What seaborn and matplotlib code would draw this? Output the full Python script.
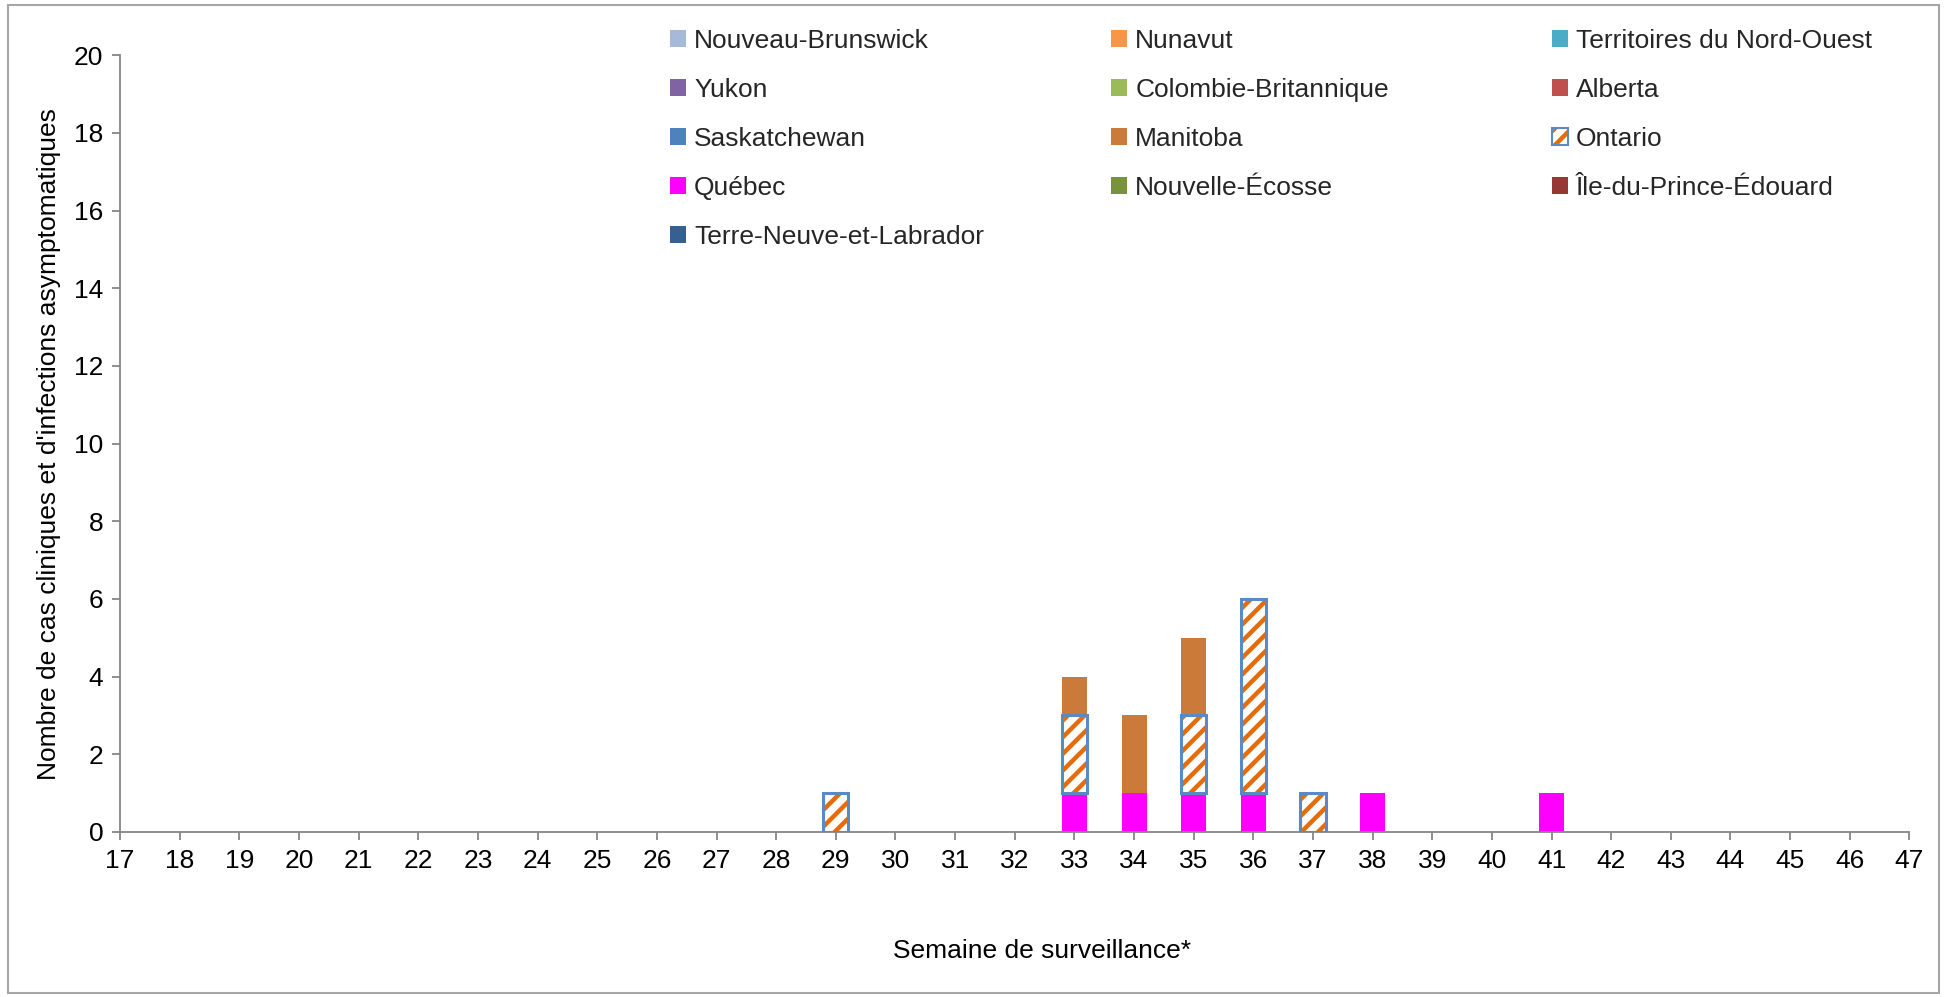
import matplotlib
matplotlib.use("Agg")
import matplotlib.pyplot as plt
from matplotlib.patches import Patch, Rectangle
from matplotlib.legend_handler import HandlerTuple
import seaborn as sns
import numpy as np

weeks = [17, 18, 19, 20, 21, 22, 23, 24, 25, 26,
         27, 28, 29, 30, 31, 32, 33, 34, 35, 36,
         37, 38, 39, 40, 41, 42, 43, 44, 45, 46, 47]

provinces = ["Nouveau-Brunswick", "Nunavut", "Territoires du Nord-Ouest",
             "Yukon", "Colombie-Britannique", "Alberta",
             "Saskatchewan", "Manitoba", "Ontario",
             "Québec", "Nouvelle-Écosse", "Île-du-Prince-Édouard",
             "Terre-Neuve-et-Labrador"]

colors = {
    "Nouveau-Brunswick": "#A7B9D9",
    "Nunavut": "#F79646",
    "Territoires du Nord-Ouest": "#4BACC6",
    "Yukon": "#8064A2",
    "Colombie-Britannique": "#9BBB59",
    "Alberta": "#C0504D",
    "Saskatchewan": "#4F81BD",
    "Manitoba": "#CB7A39",
    "Ontario": "#E46C0A",
    "Québec": "#FF00FF",
    "Nouvelle-Écosse": "#77933C",
    "Île-du-Prince-Édouard": "#953735",
    "Terre-Neuve-et-Labrador": "#376092",
}

quebec = [0, 0, 0, 0, 0, 0, 0, 0, 0, 0,
          0, 0, 0, 0, 0, 0, 1, 1, 1, 1,
          0, 1, 0, 0, 1, 0, 0, 0, 0, 0, 0]
ontario = [0, 0, 0, 0, 0, 0, 0, 0, 0, 0,
           0, 0, 1, 0, 0, 0, 2, 0, 2, 5,
           1, 0, 0, 0, 0, 0, 0, 0, 0, 0, 0]
manitoba = [0, 0, 0, 0, 0, 0, 0, 0, 0, 0,
            0, 0, 0, 0, 0, 0, 1, 2, 2, 0,
            0, 0, 0, 0, 0, 0, 0, 0, 0, 0, 0]
zeros = [0, 0, 0, 0, 0, 0, 0, 0, 0, 0,
         0, 0, 0, 0, 0, 0, 0, 0, 0, 0,
         0, 0, 0, 0, 0, 0, 0, 0, 0, 0, 0]

values = {p: zeros for p in provinces}
values["Québec"] = quebec
values["Ontario"] = ontario
values["Manitoba"] = manitoba

stack_order = ["Terre-Neuve-et-Labrador", "Île-du-Prince-Édouard", "Nouvelle-Écosse",
               "Québec", "Ontario", "Manitoba", "Saskatchewan", "Alberta",
               "Colombie-Britannique", "Yukon", "Territoires du Nord-Ouest",
               "Nunavut", "Nouveau-Brunswick"]

sns.set_theme(style="white")
plt.rcParams["font.family"] = ["Liberation Sans", "DejaVu Sans"]
plt.rcParams["hatch.linewidth"] = 3.2

FS = 19

fig = plt.figure(figsize=(19.47, 9.97), dpi=100)
ax = fig.add_axes([0.0617, 0.1655, 0.919, 0.779])

x = np.array(weeks, dtype=float)
bottom = np.zeros(len(weeks))
width = 0.42
handles = {}
for p in stack_order:
    v = np.array(values[p], dtype=float)
    m = v > 0
    if p == "Ontario":
        if m.any():
            ax.bar(x[m], v[m], width, bottom=bottom[m], facecolor="white",
                   edgecolor=colors[p], hatch="//", linewidth=0, zorder=2)
            ax.bar(x[m], v[m], width, bottom=bottom[m], facecolor="none",
                   edgecolor="#5A8AC6", linewidth=2.2, zorder=3)
        h1 = Patch(facecolor="white", edgecolor=colors[p], hatch="//", linewidth=0)
        h2 = Patch(facecolor="none", edgecolor="#5A8AC6", linewidth=1.5)
        handles[p] = (h1, h2)
    else:
        if m.any():
            ax.bar(x[m], v[m], width, bottom=bottom[m], color=colors[p],
                   linewidth=0, zorder=2)
        handles[p] = Patch(facecolor=colors[p], linewidth=0)
    bottom = bottom + v

ax.set_xlim(17, 47)
ax.set_ylim(0, 20)
ax.set_xticks(weeks)
ax.set_xticklabels([str(w) for w in weeks])
ax.set_yticks(range(0, 21, 2))

for s in ["top", "right"]:
    ax.spines[s].set_visible(False)
for s in ["left", "bottom"]:
    ax.spines[s].set_color("#868686")
    ax.spines[s].set_linewidth(1.3)
ax.tick_params(axis="both", which="major", direction="out", length=6,
               width=1.3, color="#868686", labelsize=FS, labelcolor="black",
               pad=6, left=True, bottom=True)
ax.grid(False)

ax.set_xlabel("Semaine de surveillance*", fontsize=FS, color="black", labelpad=0)
ax.xaxis.set_label_coords(0.515, -0.138)
ax.set_ylabel("Nombre de cas cliniques et d'infections asymptomatiques",
              fontsize=FS, color="black")
ax.yaxis.set_label_coords(-0.033, 0.5)

columns = [
    ["Nouveau-Brunswick", "Yukon", "Saskatchewan", "Québec", "Terre-Neuve-et-Labrador"],
    ["Nunavut", "Colombie-Britannique", "Manitoba", "Nouvelle-Écosse"],
    ["Territoires du Nord-Ouest", "Alberta", "Ontario", "Île-du-Prince-Édouard"],
]
col_x = [0.344, 0.5706, 0.797]
for cx, col in zip(col_x, columns):
    fig.legend([handles[p] for p in col], col,
               handler_map={tuple: HandlerTuple(ndivide=1)},
               loc="upper left", bbox_to_anchor=(cx, 0.971), ncol=1,
               frameon=False, fontsize=FS, handlelength=0.62,
               handleheight=0.62, handletextpad=0.3, borderpad=0,
               labelspacing=0.95, borderaxespad=0)

fig.patches.append(Rectangle((0.004, 0.004), 0.992, 0.991, transform=fig.transFigure,
                             fill=False, edgecolor="#A6A6A6", linewidth=1.5))

fig.savefig("out.png", dpi=100, facecolor="white")
